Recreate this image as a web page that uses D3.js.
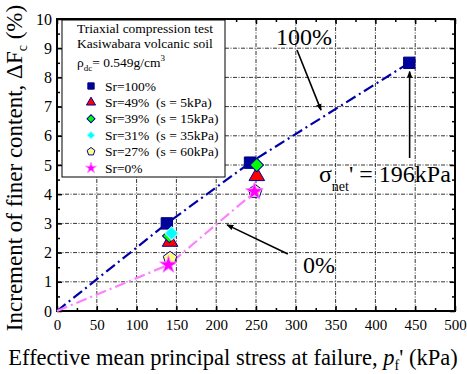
<!DOCTYPE html>
<html>
<head>
<meta charset="utf-8">
<script src="https://cdn.jsdelivr.net/npm/d3@7"></script>
<style>
  html, body { margin: 0; padding: 0; background: #fff; }
  svg text { font-family: "Times New Roman", "Liberation Serif", "DejaVu Serif", serif; white-space: pre; }
</style>
</head>
<body>
<svg id="chart" width="467" height="374"></svg>
<script>
// Increment of finer content vs. effective mean principal stress at failure
const xTicks = [0, 50, 100, 150, 200, 250, 300, 350, 400, 450, 500];
const yTicks = [0, 1, 2, 3, 4, 5, 6, 7, 8, 9, 10];

const sr100 = [[138, 3.0], [242.5, 5.08], [442.6, 8.5]];
const sr49 = [[142, 2.37], [251, 4.62]];
const sr39 = [[141, 2.57], [251, 5.0]];
const sr31 = [[144, 2.66]];
const sr27 = [[142, 1.8], [249, 4.09]];
const sr0 = [[140, 1.58], [248, 4.09]];

// trend lines start from the origin
const line100 = [[0, 0]].concat(sr100);
const line0 = [[0, 0], [140, 1.58], [249, 4.09]];

const legendLabels = [
  "Sr=100%",
  "Sr=49%  (s = 5kPa)",
  "Sr=39%  (s = 15kPa)",
  "Sr=31%  (s = 35kPa)",
  "Sr=27%  (s = 60kPa)",
  "Sr=0%"
];

const FONT = "'Times New Roman', 'Liberation Serif', 'DejaVu Serif', serif";
const svg = d3.select("#chart");
const x = d3.scaleLinear().domain([0, 500]).range([57, 455]);
const y = d3.scaleLinear().domain([0, 10]).range([311, 19]);

// pentagon symbol
const symbolPentagon = {
  draw(ctx, size) {
    const r = Math.sqrt(size / 2.378);
    for (let i = 0; i < 5; i++) {
      const a = -Math.PI / 2 + i * 2 * Math.PI / 5;
      const px = r * Math.cos(a), py = r * Math.sin(a);
      if (i === 0) ctx.moveTo(px, py); else ctx.lineTo(px, py);
    }
    ctx.closePath();
  }
};

const styles = [
  { data: sr100, type: d3.symbolSquare, size: 130, rot: 0, fill: "#00009c", stroke: "#000080", lsize: 40 },
  { data: sr49, type: d3.symbolTriangle, size: 105, rot: 0, fill: "#ff0000", stroke: "#0000a0", lsize: 36 },
  { data: sr39, type: d3.symbolSquare, size: 90, rot: 45, fill: "#00ff00", stroke: "#0000a0", lsize: 32 },
  { data: sr31, type: d3.symbolSquare, size: 90, rot: 45, fill: "#00ffff", stroke: "#b8ffff", lsize: 32 },
  { data: sr27, type: symbolPentagon, size: 120, rot: 0, fill: "#ffff80", stroke: "#0000a0", lsize: 40 },
  { data: sr0, type: d3.symbolStar, size: 95, rot: 0, fill: "#ff00ff", stroke: "#ff80ff", lsize: 36 }
];

// grid lines
const grid = svg.append("g");
grid.selectAll("line.gx").data(xTicks.slice(1, -1)).join("line")
  .attr("x1", d => x(d)).attr("x2", d => x(d))
  .attr("y1", y(0)).attr("y2", y(10))
  .attr("stroke", "#000").attr("stroke-width", 0.8)
  .attr("stroke-dasharray", "4,1.5,1,1.5");
grid.selectAll("line.gy").data(yTicks.slice(1, -1)).join("line")
  .attr("y1", d => y(d)).attr("y2", d => y(d))
  .attr("x1", x(0)).attr("x2", x(500))
  .attr("stroke", "#000").attr("stroke-width", 0.8)
  .attr("stroke-dasharray", "4,1.5,1,1.5");

// axes with inward ticks
const xMinor = d3.range(25, 500, 50);
const yMinor = d3.range(0.5, 10, 1);

const bottom = svg.append("g").attr("transform", `translate(0,${y(0)})`)
  .call(d3.axisBottom(x).tickValues(xTicks).tickSizeInner(-5).tickSizeOuter(0).tickPadding(8).tickFormat(d3.format("d")));
svg.append("g").attr("transform", `translate(0,${y(0)})`)
  .call(d3.axisBottom(x).tickValues(xMinor).tickSizeInner(-3).tickSizeOuter(0).tickFormat(""));
svg.append("g").attr("transform", `translate(0,${y(10)})`)
  .call(d3.axisTop(x).tickValues(xTicks).tickSizeInner(-5).tickSizeOuter(0).tickFormat(""));
svg.append("g").attr("transform", `translate(0,${y(10)})`)
  .call(d3.axisTop(x).tickValues(xMinor).tickSizeInner(-3).tickSizeOuter(0).tickFormat(""));

const left = svg.append("g").attr("transform", `translate(${x(0)},0)`)
  .call(d3.axisLeft(y).tickValues(yTicks).tickSizeInner(-5).tickSizeOuter(0).tickPadding(5).tickFormat(d3.format("d")));
svg.append("g").attr("transform", `translate(${x(0)},0)`)
  .call(d3.axisLeft(y).tickValues(yMinor).tickSizeInner(-3).tickSizeOuter(0).tickFormat(""));
svg.append("g").attr("transform", `translate(${x(500)},0)`)
  .call(d3.axisRight(y).tickValues(yTicks).tickSizeInner(-5).tickSizeOuter(0).tickFormat(""));
svg.append("g").attr("transform", `translate(${x(500)},0)`)
  .call(d3.axisRight(y).tickValues(yMinor).tickSizeInner(-3).tickSizeOuter(0).tickFormat(""));

svg.selectAll(".domain").remove();
svg.selectAll("g").attr("font-family", FONT);
svg.selectAll(".tick line").attr("stroke", "#000").attr("stroke-width", 1.5);
bottom.selectAll("text").attr("font-size", 15).attr("fill", "#000");
left.selectAll("text").attr("font-size", 16).attr("fill", "#000");

// frame
svg.append("rect")
  .attr("x", x(0)).attr("y", y(10))
  .attr("width", x(500) - x(0)).attr("height", y(0) - y(10))
  .attr("fill", "none").attr("stroke", "#000").attr("stroke-width", 2);

// trend lines
const lineGen = d3.line().x(d => x(d[0])).y(d => y(d[1]));
svg.append("path").datum(line100).attr("d", lineGen)
  .attr("fill", "none").attr("stroke", "#0000a8").attr("stroke-width", 2.2)
  .attr("stroke-dasharray", "11,4,2,4");
svg.append("path").datum(line0).attr("d", lineGen)
  .attr("fill", "none").attr("stroke", "#ff80ff").attr("stroke-width", 2.2)
  .attr("stroke-dasharray", "11,4,2,4");

// data markers
styles.forEach(s => {
  svg.append("g").selectAll("path").data(s.data).join("path")
    .attr("d", d3.symbol().type(s.type).size(s.size))
    .attr("transform", d => `translate(${x(d[0])},${y(d[1])}) rotate(${s.rot})`)
    .attr("fill", s.fill).attr("stroke", s.stroke).attr("stroke-width", 1);
});

// legend
const lg = svg.append("g").attr("font-family", FONT);
lg.append("rect").attr("x", 62).attr("y", 20).attr("width", 163).attr("height", 157)
  .attr("fill", "#fff").attr("stroke", "#000").attr("stroke-width", 1);
lg.append("text").attr("x", 77).attr("y", 33).attr("font-size", 13.5).text("Triaxial compression test");
lg.append("text").attr("x", 77).attr("y", 48).attr("font-size", 13.5).text("Kasiwabara volcanic soil");
const rho = lg.append("text").attr("x", 77).attr("y", 67).attr("font-size", 13.5);
rho.append("tspan").text("ρ");
rho.append("tspan").attr("font-size", 9).attr("dy", 4).text("dc");
rho.append("tspan").attr("dy", -4).text("= 0.549g/cm");
rho.append("tspan").attr("font-size", 9).attr("dy", -6).text("3");

const rowY = d3.scaleLinear().domain([0, 5]).range([86, 168]);
styles.forEach((s, i) => {
  lg.append("path")
    .attr("d", d3.symbol().type(s.type).size(s.lsize))
    .attr("transform", `translate(91,${rowY(i)}) rotate(${s.rot})`)
    .attr("fill", s.fill).attr("stroke", s.stroke).attr("stroke-width", 1);
  lg.append("text").attr("x", 105).attr("y", rowY(i) + 4.5).attr("font-size", 13.5).text(legendLabels[i]);
});

// annotations
svg.append("defs").append("marker")
  .attr("id", "arrowhead").attr("viewBox", "0 0 10 10")
  .attr("refX", 9).attr("refY", 5)
  .attr("markerWidth", 7).attr("markerHeight", 7)
  .attr("markerUnits", "userSpaceOnUse")
  .attr("orient", "auto")
  .append("path").attr("d", "M0,1 L10,5 L0,9 Z").attr("fill", "#000");

const arrows = [
  [[301.5, 8.94], [331.7, 6.88]],
  [[443, 5.24], [443, 8.2]],
  [[290, 1.95], [213.6, 2.95]]
];
svg.append("g").selectAll("line").data(arrows).join("line")
  .attr("x1", d => x(d[0][0])).attr("y1", d => y(d[0][1]))
  .attr("x2", d => x(d[1][0])).attr("y2", d => y(d[1][1]))
  .attr("stroke", "#000").attr("stroke-width", 1.6)
  .attr("marker-end", "url(#arrowhead)");

const notes = svg.append("g").attr("font-family", FONT);
notes.append("text").attr("x", x(275)).attr("y", y(9.11)).attr("font-size", 24).text("100%");
notes.append("text").attr("x", x(309)).attr("y", y(1.3)).attr("font-size", 24).text("0%");
const sig = notes.append("text").attr("x", x(329)).attr("y", y(4.42)).attr("font-size", 24);
sig.append("tspan").text("σ");
sig.append("tspan").attr("font-size", 14).attr("dy", 9).text("net");
sig.append("tspan").attr("dy", -9).text("' = 196kPa");

// axis titles
const titles = svg.append("g").attr("font-family", FONT);
const xt = titles.append("text").attr("x", 233).attr("y", 365).attr("text-anchor", "middle").attr("font-size", 22.5);
xt.append("tspan").text("Effective mean principal stress at failure, ");
xt.append("tspan").attr("font-style", "italic").text("p");
xt.append("tspan").attr("font-size", 14).attr("dy", 5).text("f");
xt.append("tspan").attr("dy", -5).text("' (kPa)");

const yt = titles.append("text").attr("transform", `translate(22,168) rotate(-90)`)
  .attr("text-anchor", "middle").attr("font-size", 23);
yt.append("tspan").text("Increment of finer content, ΔF");
yt.append("tspan").attr("font-size", 14).attr("dy", 5).text("c");
yt.append("tspan").attr("dy", -5).text(" (%)");
</script>
</body>
</html>
